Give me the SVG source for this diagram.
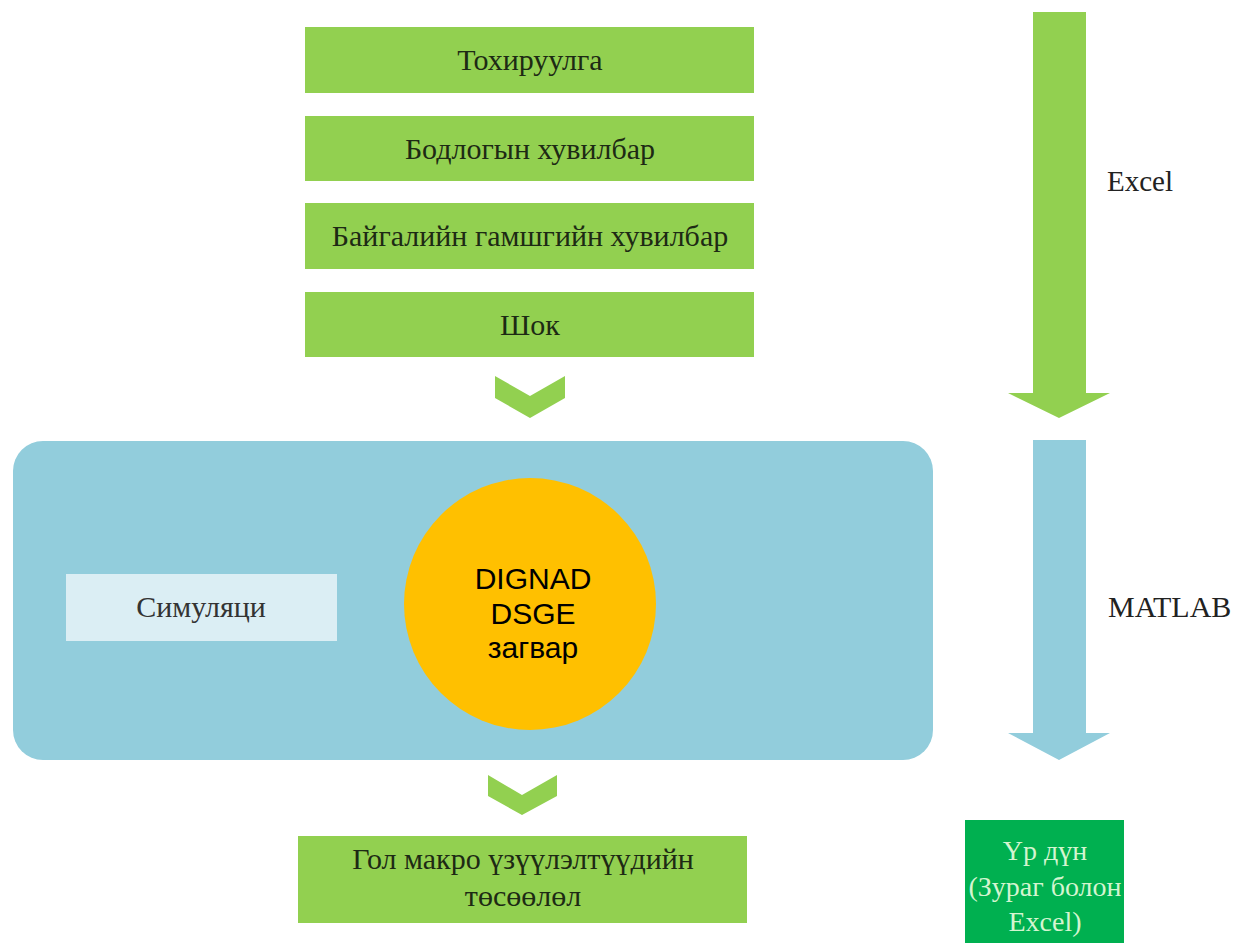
<svg xmlns="http://www.w3.org/2000/svg" width="1243" height="943" viewBox="0 0 1243 943">
<style>
.g{fill:#92d050}
.t{font-family:"Liberation Serif","Times New Roman",serif;font-size:30px;fill:#1d2a14;text-anchor:middle}
.a{font-family:"Liberation Sans",Arial,sans-serif;font-size:30px;fill:#000;text-anchor:middle}
.l{font-family:"Liberation Serif","Times New Roman",serif;font-size:29px;fill:#222}
.w{fill:#d4f5d0;font-size:28px}
</style>
<rect width="1243" height="943" fill="#fff"/>
<g id="n1"><rect class="g" x="305" y="27" width="449" height="66"/><text class="t" x="530" y="70">Тохируулга</text></g>
<g id="n2"><rect class="g" x="305" y="116" width="449" height="65"/><text class="t" x="530" y="159">Бодлогын хувилбар</text></g>
<g id="n3"><rect class="g" x="305" y="203" width="449" height="66"/><text class="t" x="530" y="246">Байгалийн гамшгийн хувилбар</text></g>
<g id="n4"><rect class="g" x="305" y="292" width="449" height="65"/><text class="t" x="530" y="335">Шок</text></g>
<g id="sim">
<rect x="13" y="441" width="920" height="319" rx="30" fill="#92cddc"/>
<rect x="66" y="574" width="271" height="67" fill="#dbeef4"/>
<text class="t" x="201" y="617" style="fill:#333">Симуляци</text>
</g>
<g id="model"><circle cx="530" cy="604" r="126" fill="#ffc000"/>
<text class="a" x="533" y="589">DIGNAD</text>
<text class="a" x="533" y="624">DSGE</text>
<text class="a" x="533" y="658">загвар</text></g>
<g id="n5"><rect class="g" x="298" y="836" width="449" height="87"/>
<text class="t" x="523" y="869">Гол макро үзүүлэлтүүдийн</text>
<text class="t" x="523" y="906">төсөөлөл</text></g>
<g id="result"><rect x="965" y="820" width="159" height="123" fill="#00b050"/>
<text class="t w" x="1045" y="860">Үр дүн</text>
<text class="t w" x="1045" y="896">(Зураг болон</text>
<text class="t w" x="1045" y="931">Excel)</text></g>
<g id="connectors">
<polygon class="g" points="495,376 530,396 565,376 565,398 530,418 495,398"/>
<polygon class="g" points="488,775 522,795 557,775 557,796 522,815 488,796"/>
<polygon class="g" points="1033,12 1086,12 1086,393 1110,393 1059,418 1008,393 1033,393"/>
<polygon fill="#92cddc" points="1033,440 1086,440 1086,733 1110,733 1059,760 1008,733 1033,733"/>
<text class="l" x="1107" y="191">Excel</text>
<text class="l" x="1108" y="617" style="font-size:30px">MATLAB</text>
</g>
</svg>
